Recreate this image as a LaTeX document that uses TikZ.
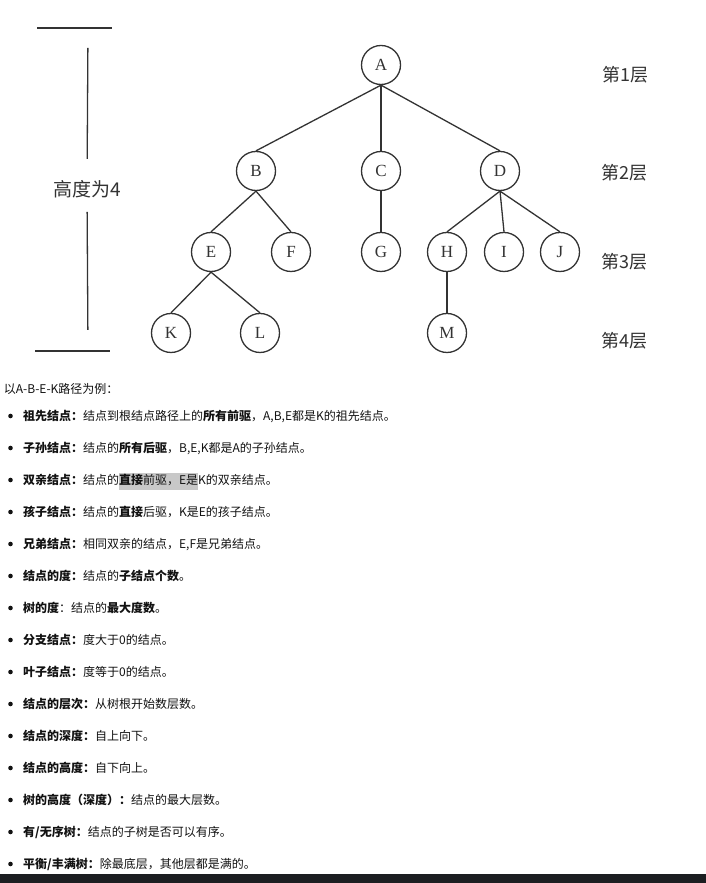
\documentclass[tikz,border=0pt]{standalone}
\usepackage{fontspec}
\setmainfont{Liberation Serif}
\newfontfamily\cjk{Noto Sans CJK SC}
\usetikzlibrary{positioning}

\definecolor{scan}{HTML}{333333}
\definecolor{selgray}{HTML}{C8C8C8}
\definecolor{barblack}{HTML}{1C1E21}
\newcommand{\selbox}[1]{{\setlength{\fboxsep}{0pt}\colorbox{selgray}{\rule[-5pt]{0pt}{17pt}#1}}}

\begin{document}
\begin{tikzpicture}[x=1pt,y=1pt,on grid,line width=1.3pt]
    \tikzstyle{vertex}=[circle,draw=scan,text=scan,minimum size=39pt,inner sep=0pt,font=\fontsize{17}{17}\selectfont]
    \tikzstyle{level}=[text=scan,font=\cjk\fontsize{18}{18}\selectfont]
    \tikzstyle{item}=[anchor=base west,inner sep=0pt,text=black!93,font=\cjk\fontsize{12}{14}\selectfont]
    \useasboundingbox (0,0) rectangle (706,883);
    \fill[white] (0,0) rectangle (706,883);
    \fill[barblack] (0,0) rectangle (706,9);

    % the tree
    \node[vertex]                 (A) at (381,818)                {A};
    \node[vertex]                 (B) [below left=106pt and 125pt of A]  {B};
    \node[vertex]                 (C) [below=106pt of A]                 {C};
    \node[vertex]                 (D) [below right=106pt and 119pt of A] {D};
    \node[vertex]                 (E) [below left=81pt and 45pt of B]    {E};
    \node[vertex]                 (F) [below right=81pt and 35pt of B]   {F};
    \node[vertex]                 (G) [below=81pt of C]                  {G};
    \node[vertex]                 (H) [below left=81pt and 53pt of D]    {H};
    \node[vertex]                 (I) [below right=81pt and 4pt of D]    {I};
    \node[vertex]                 (J) [below right=81pt and 60pt of D]   {J};
    \node[vertex]                 (K) [below left=81pt and 40pt of E]    {K};
    \node[vertex]                 (L) [below right=81pt and 49pt of E]   {L};
    \node[vertex]                 (M) [below=81pt of H]                  {M};
    \path[draw=scan] (A.south) edge (B.north) edge (C.north) edge (D.north)
    (B.south) edge (E.north) edge (F.north)
    (C.south) edge (G.north)
    (D.south) edge (H.north) edge (I.north) edge (J.north)
    (E.south) edge (K.north) edge (L.north)
    (H.south) edge (M.north);

    % levels
    \node[level] (l1) at (625,808) {第1层};
    \node[level] (l2) at (624,710) {第2层};
    \node[level] (l3) at (624,621) {第3层};
    \node[level] (l4) at (624,542) {第4层};

    % height bracket
    \coordinate (htop) at (88,855);
    \coordinate (hbot) at (88,532);
    \node[level,font=\cjk\fontsize{19}{19}\selectfont] (height) at (87,693.5) {高度为4};
    \draw[scan] ([xshift=-51pt]htop) -- ([xshift=24pt]htop);
    \draw[scan] ([xshift=-53pt]hbot) -- ([xshift=22pt]hbot);
    \draw[scan,shorten <=20pt,shorten >=30.5pt] (htop) -- (height.center);
    \draw[scan,shorten <=22.5pt,shorten >=21pt] (height.center) -- (hbot);

    % the list
    \node[item] (intro) at (3.3,489.4) {以A-B-E-K路径为例：};
    \foreach \txt [count=\i] in {
        {\textbf{祖先结点：}结点到根结点路径上的\textbf{所有前驱}，A,B,E都是K的祖先结点。},
        {\textbf{子孙结点：}结点的\textbf{所有后驱}，B,E,K都是A的子孙结点。},
        {\textbf{双亲结点：}结点的\selbox{\textbf{直接}前驱，E是}K的双亲结点。},
        {\textbf{孩子结点：}结点的\textbf{直接}后驱，K是E的孩子结点。},
        {\textbf{兄弟结点：}相同双亲的结点，E,F是兄弟结点。},
        {\textbf{结点的度：}结点的\textbf{子结点个数}。},
        {\textbf{树的度}：结点的\textbf{最大度数}。},
        {\textbf{分支结点：}度大于0的结点。},
        {\textbf{叶子结点：}度等于0的结点。},
        {\textbf{结点的层次：}从树根开始数层数。},
        {\textbf{结点的深度：}自上向下。},
        {\textbf{结点的高度：}自下向上。},
        {\textbf{树的高度（深度）：}结点的最大层数。},
        {\textbf{有/无序树：}结点的子树是否可以有序。},
        {\textbf{平衡/丰满树：}除最底层，其他层都是满的。}
    }{
        \fill[black!93] (10.5,{467-32*(\i-1)}) circle (2.3);
        \node[item] (item\i) at (22.5,{462.4-32*(\i-1)}) {\txt};
    }
\end{tikzpicture}
\end{document}
